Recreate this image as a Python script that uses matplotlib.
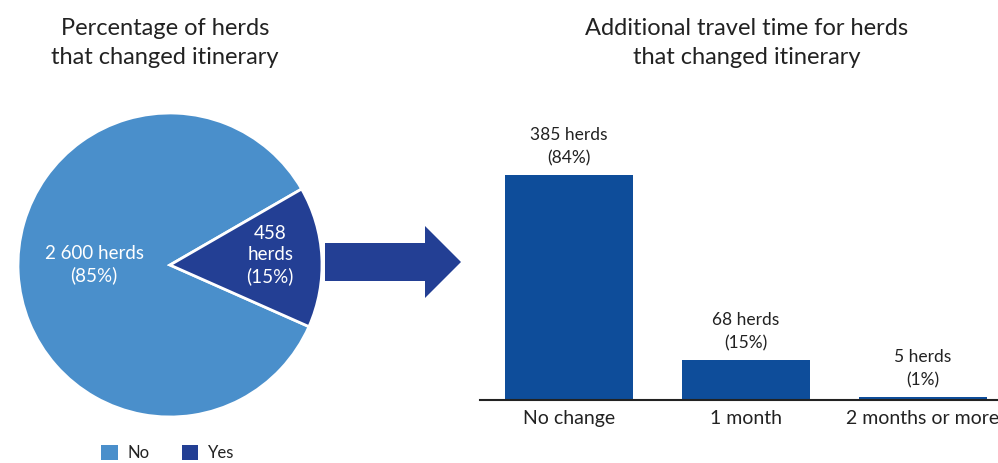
import matplotlib.pyplot as plt
from matplotlib.patches import Patch, Polygon
import numpy as np

plt.rcParams['font.family'] = ['Lato', 'DejaVu Sans']

# left panel: herds that changed itinerary
pie_labels = ["No", "Yes"]
pie_counts = [2600, 458]
pie_pct = [85, 15]
pie_colors = ["#4a8fcb", "#233f94"]

# right panel: extra travel time
bar_cats = ["No change", "1 month", "2 months or more"]
bar_counts = [385, 68, 5]
bar_pct = [84, 15, 1]
bar_color = "#0e4d9a"

txt = "#222222"
W, H = 998, 463
fig = plt.figure(figsize=(W / 100, H / 100), dpi=100)

# pie
r = 152
cx, cy = 170, 265
axp = fig.add_axes([(cx - r) / W, (H - cy - r) / H, 2 * r / W, 2 * r / H])
wedges, _ = axp.pie(pie_counts, colors=pie_colors, startangle=30,
                    wedgeprops=dict(edgecolor="white", linewidth=2))
axp.set_xlim(-1, 1)
axp.set_ylim(-1, 1)
label_r = [0.5, 0.66]
for w, n, p, lr in zip(wedges, pie_counts, pie_pct, label_r):
    ang = np.deg2rad((w.theta1 + w.theta2) / 2)
    num = f"{n:,}".replace(",", " ")
    if n < 1000:
        s = f"{num}\nherds\n({p}%)"
    else:
        s = f"{num} herds\n({p}%)"
    axp.text(lr * np.cos(ang), lr * np.sin(ang) + 0.03, s, ha="center", va="center",
             color="white", fontsize=13.5, linespacing=1.3)

fig.text(165 / W, 1 - 43 / H, "Percentage of herds\nthat changed itinerary",
         ha="center", va="center", fontsize=17, color=txt, linespacing=1.45)

handles = [Patch(facecolor=c, label=l) for c, l in zip(pie_colors, pie_labels)]
fig.legend(handles=handles, loc="center", bbox_to_anchor=(168 / W, 1 - 453 / H),
           ncol=2, frameon=False, fontsize=12, handlelength=1.0, handleheight=1.0,
           handletextpad=0.6, columnspacing=1.9, labelcolor=txt)

# bars
axb = fig.add_axes([480 / W, (H - 400) / H, 1 - 480 / W, 270 / H])
x = np.arange(len(bar_cats))
axb.bar(x, bar_counts, width=0.723, color=bar_color)
axb.set_xlim(-0.503, 2.424)
axb.set_ylim(0, 385 * 270 / 225)
for xi, n, p in zip(x, bar_counts, bar_pct):
    axb.annotate(f"{n} herds\n({p}%)", (xi, n), xytext=(0, 6), textcoords="offset points",
                 ha="center", va="bottom", fontsize=12.5, color=txt, linespacing=1.6)
axb.set_xticks(x, bar_cats, fontsize=14, color=txt)
axb.tick_params(axis="x", length=0, pad=7)
axb.set_yticks([])
for s in ["top", "right", "left"]:
    axb.spines[s].set_visible(False)
axb.spines["bottom"].set_color("#222222")
axb.spines["bottom"].set_linewidth(1.5)

fig.text(747 / W, 1 - 43 / H, "Additional travel time for herds\nthat changed itinerary",
         ha="center", va="center", fontsize=17, color=txt, linespacing=1.45)

# connecting arrow
axo = fig.add_axes([0, 0, 1, 1], zorder=-1)
axo.set_xlim(0, W)
axo.set_ylim(H, 0)
axo.axis("off")
axo.add_patch(Polygon([(325, 243), (425, 243), (425, 226), (461, 262),
                       (425, 298), (425, 281), (325, 281)],
                      closed=True, facecolor="#233f94", edgecolor="none"))

fig.savefig("out.png", dpi=100)
